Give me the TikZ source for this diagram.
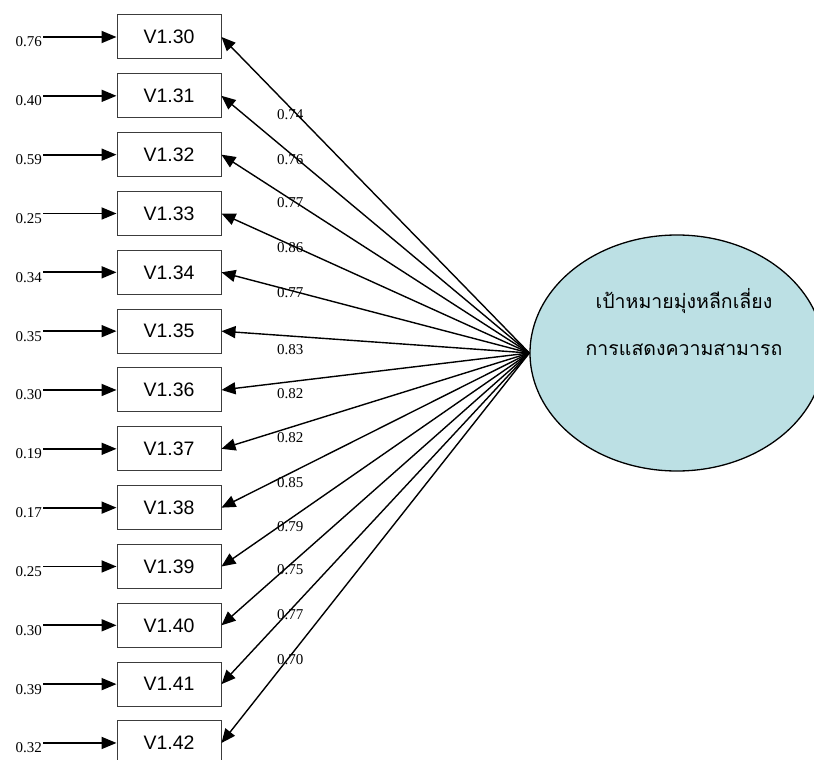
\documentclass[tikz,border=0pt]{standalone}
\usepackage{fontspec}
\setmainfont{Liberation Serif}
\newfontfamily\boxfont{Liberation Sans}
\newfontfamily\thaifont[Script=Thai]{Loma}
\usetikzlibrary{arrows.meta,shapes.geometric}
\definecolor{latentfill}{RGB}{188,224,228}
\definecolor{boxline}{RGB}{60,60,60}

\begin{document}
\begin{tikzpicture}[x=1pt,y=-1pt,
  obs/.style={draw=boxline, line width=1pt, fill=white, minimum width=104pt,
    minimum height=44pt, inner sep=0pt, font=\boxfont\fontsize{19.5}{20}\selectfont},
  latent/.style={draw, line width=1.3pt, fill=latentfill, ellipse,
    minimum width=294pt, minimum height=236pt, inner sep=0pt},
  errlabel/.style={anchor=base east, inner sep=0pt, font=\fontsize{15}{16}\selectfont},
  loadlabel/.style={anchor=west, inner sep=0pt, font=\fontsize{15}{16}\selectfont},
  errarrow/.style={line width=1.8pt, -{Triangle[length=15pt,width=12pt]}},
  loadarrow/.style={line width=1.4pt, -{Triangle[length=14pt,width=12pt]}},
  thaitext/.style={anchor=base, inner sep=0pt, font=\thaifont\fontsize{19.5}{20}\selectfont}
]
\useasboundingbox (0,0) rectangle (814,760);

% latent factor
\node[latent] (goal) at (677,353) {};
\node[thaitext] (goalA) at (684,308) {เป้าหมายมุ่งหลีกเลี่ยง};
\node[thaitext] (goalB) at (684,355) {การแสดงความสามารถ};

% indicators with error terms and loadings
\foreach \i/\err/\lam/\ly [count=\k from 0] in
  {30/0.76/0.74/115, 31/0.40/0.76/160, 32/0.59/0.77/203, 33/0.25/0.86/248,
   34/0.34/0.77/293, 35/0.35/0.83/350, 36/0.30/0.82/394, 37/0.19/0.82/438,
   38/0.17/0.85/483, 39/0.25/0.79/527, 40/0.30/0.75/570, 41/0.39/0.77/615,
   42/0.32/0.70/660}{
  \pgfmathsetmacro{\yc}{37+58.83*\k}
  \node[obs] (v\i) at (169,\yc) {V1.\i};
  \node[errlabel] (e\i) at (42,\yc+10) {\err};
  \coordinate (s\i) at (43,\yc);
  \draw[errarrow] (s\i) -- (v\i.west);
  \draw[loadarrow] (goal.west) -- (v\i.east);
  \node[loadlabel] (l\i) at (277,\ly) {\lam};
}
\end{tikzpicture}
\end{document}
